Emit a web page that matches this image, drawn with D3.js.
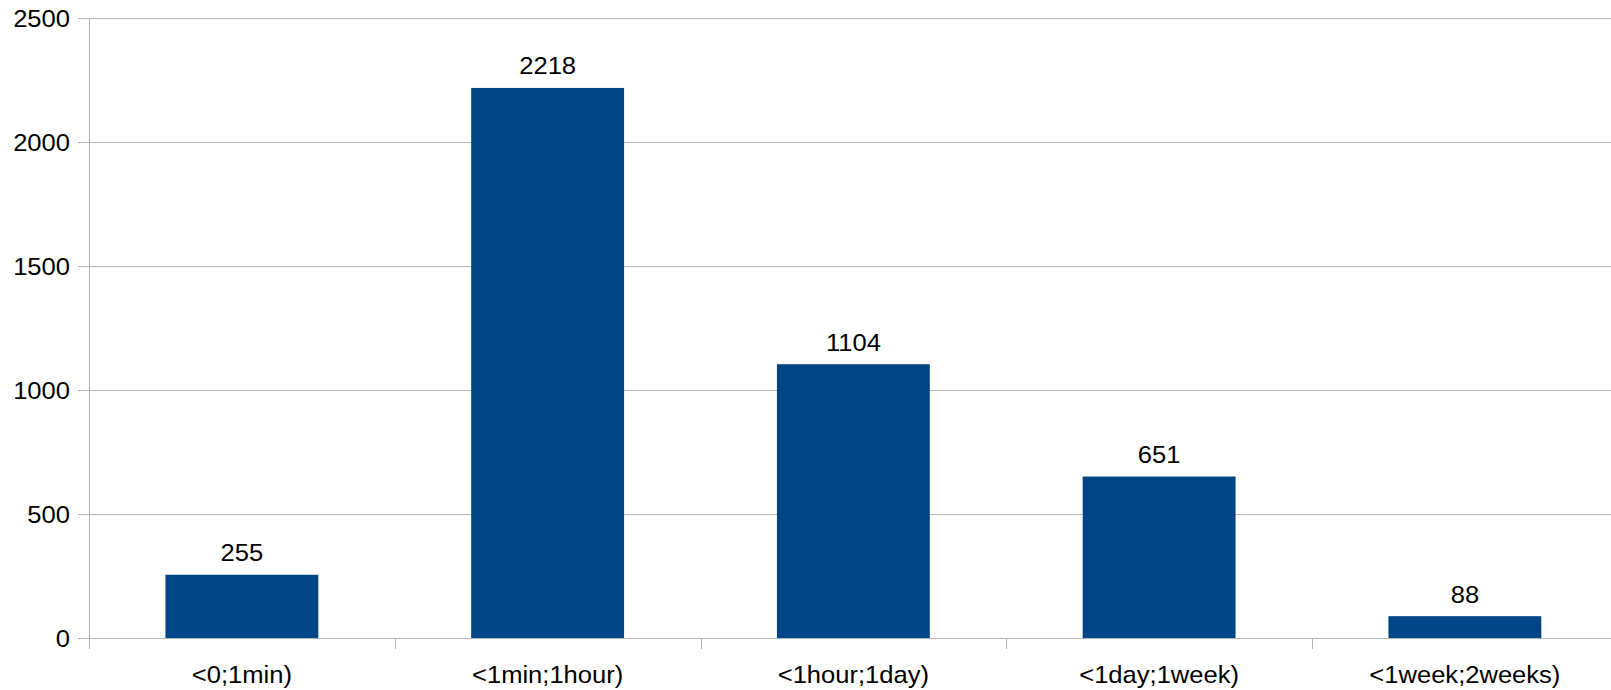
<!DOCTYPE html>
<html>
<head>
<meta charset="utf-8">
<script src="https://cdn.jsdelivr.net/npm/d3@7"></script>
<style>
  html, body { margin: 0; padding: 0; background: #fff; }
  svg { display: block; }
  text { font-family: "Liberation Sans", Arial, sans-serif; fill: #000; }
</style>
</head>
<body>
<svg id="chart" width="1611" height="690"></svg>
<script>
// Duration buckets and their counts
const categories = ["<0;1min)", "<1min;1hour)", "<1hour;1day)", "<1day;1week)", "<1week;2weeks)"];
const counts = [255, 2218, 1104, 651, 88];
const yTicks = [0, 500, 1000, 1500, 2000, 2500];

const width = 1611, height = 690;
const margin = { left: 89, top: 18 };
const plotW = 1528.75, plotH = 620;
const gridColor = "#b3b3b3";
const barColor = "#004586";
const fontSize = "24px";
const stretch = 1.065; // slightly wide lettering

const svg = d3.select("#chart");
const g = svg.append("g").attr("transform", `translate(${margin.left},${margin.top})`);

const x = d3.scaleBand().domain(categories).range([0, plotW]).paddingInner(0.5).paddingOuter(0.25);
const y = d3.scaleLinear().domain([0, 2500]).range([plotH, 0]);

// Place a text element at (px, py) with horizontal stretch
function placeText(sel, px, py) {
  sel.attr("x", null).attr("y", null)
     .attr("transform", (d, i) => `translate(${px(d, i)},${py(d, i)}) scale(${stretch},1)`);
}

// Horizontal gridlines (with the short tick stub to the left of the axis)
g.append("g").selectAll("line").data(yTicks).join("line")
  .attr("x1", -11).attr("x2", width - margin.left)
  .attr("y1", d => Math.round(y(d)) + 0.5).attr("y2", d => Math.round(y(d)) + 0.5)
  .attr("stroke", gridColor).attr("stroke-width", 1);

// Y axis labels
const yAxis = d3.axisLeft(y).tickValues(yTicks).tickFormat(d3.format("d")).tickSize(0).tickPadding(0);
const yg = g.append("g").call(yAxis);
yg.select(".domain").remove();
yg.selectAll("text").style("font-size", fontSize).attr("dy", "0.34em")
  .call(placeText, () => -19, () => 0);

// Bars
g.append("g").selectAll("rect").data(counts).join("rect")
  .attr("x", (d, i) => x(categories[i]))
  .attr("width", x.bandwidth())
  .attr("y", d => y(d))
  .attr("height", d => y(0) - y(d))
  .attr("fill", barColor);

// Value labels above bars
g.append("g").selectAll("text").data(counts).join("text")
  .attr("text-anchor", "middle")
  .style("font-size", fontSize)
  .text(d => d)
  .call(placeText, (d, i) => x(categories[i]) + x.bandwidth() / 2, d => y(d) - 13.5);

// Vertical axis line
g.append("line")
  .attr("x1", 0.5).attr("x2", 0.5).attr("y1", 0).attr("y2", plotH + 11)
  .attr("stroke", gridColor);

// Category separator ticks below the baseline
const step = x.step();
g.append("g").selectAll("line").data(d3.range(1, categories.length + 1)).join("line")
  .attr("x1", d => Math.round(d * step) + 0.5).attr("x2", d => Math.round(d * step) + 0.5)
  .attr("y1", plotH).attr("y2", plotH + 11)
  .attr("stroke", gridColor);

// Category labels
const xAxis = d3.axisBottom(x).tickSize(0).tickPadding(0);
const xg = g.append("g").attr("transform", `translate(0,${plotH})`).call(xAxis);
xg.select(".domain").remove();
xg.selectAll("text").attr("dy", null).style("font-size", fontSize)
  .call(placeText, () => 0, () => 44.5);
</script>
</body>
</html>
